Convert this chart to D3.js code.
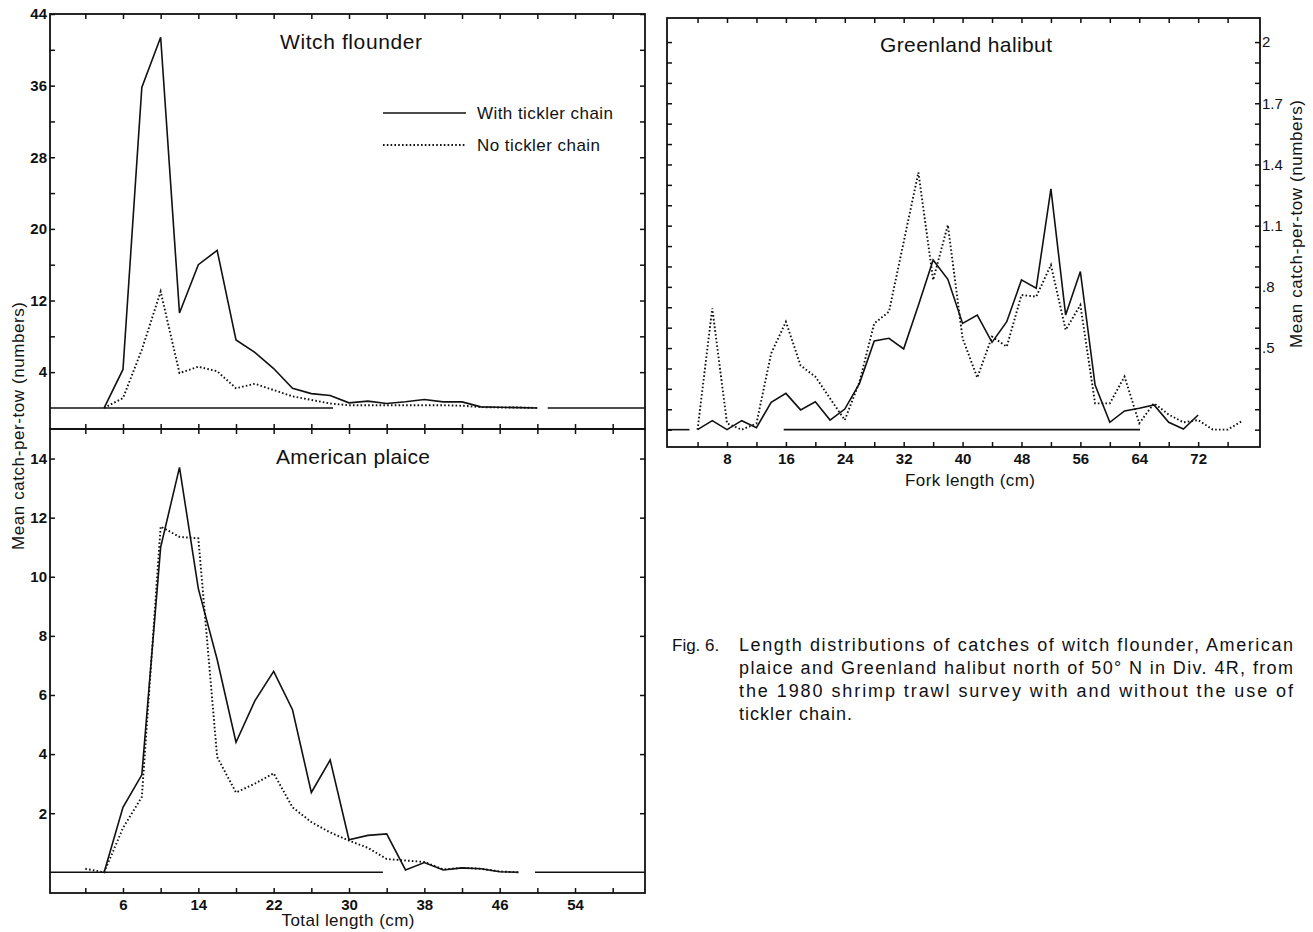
<!DOCTYPE html>
<html>
<head>
<meta charset="utf-8">
<script src="https://cdn.jsdelivr.net/npm/d3@7/dist/d3.min.js"></script>
<style>
  body { margin: 0; background: #fff; }
  svg { display: block; font-family: "Liberation Sans", Arial, sans-serif; }
</style>
</head>
<body>
<div id="chart"></div>
<script>
// ---- data ----
const witchLengths = [4, 6, 8, 10, 12, 14, 16, 18, 20, 22, 24, 26, 28, 30, 32, 34, 36, 38, 40, 42, 44, 46, 48, 50]
const witchWith = [0, 4.3, 35.8, 41.4, 10.6, 16.0, 17.6, 7.6, 6.2, 4.4, 2.2, 1.6, 1.4, 0.57, 0.76, 0.5, 0.7, 0.95, 0.68, 0.68, 0.12, 0.08, 0.04, 0]
const witchWithout = [0, 1.1, 6.5, 13.0, 3.9, 4.6, 4.1, 2.2, 2.7, 2.0, 1.3, 0.9, 0.5, 0.3, 0.3, 0.3, 0.3, 0.3, 0.3, 0.25, 0.1, 0.05, 0.05, 0]

const plaiceLengths = [2, 4, 6, 8, 10, 12, 14, 16, 18, 20, 22, 24, 26, 28, 30, 32, 34, 36, 38, 40, 42, 44, 46, 48]
const plaiceWith = [null, 0, 2.2, 3.3, 11.0, 13.7, 9.6, 7.2, 4.4, 5.8, 6.8, 5.5, 2.7, 3.8, 1.1, 1.25, 1.3, 0.08, 0.33, 0.08, 0.15, 0.12, 0.02, 0]
const plaiceWithout = [0.12, 0, 1.5, 2.55, 11.7, 11.35, 11.3, 3.9, 2.7, 3.0, 3.35, 2.2, 1.7, 1.35, 1.07, 0.83, 0.45, 0.4, 0.35, 0.1, 0.15, 0.12, 0.03, 0]

const halibutLengths = [4, 6, 8, 10, 12, 14, 16, 18, 20, 22, 24, 26, 28, 30, 32, 34, 36, 38, 40, 42, 44, 46, 48, 50, 52, 54, 56, 58, 60, 62, 64, 66, 68, 70, 72, 74, 76, 78]
const halibutWith = [0.1, 0.144, 0.1, 0.144, 0.11, 0.234, 0.278, 0.197, 0.237, 0.147, 0.201, 0.327, 0.535, 0.548, 0.496, 0.71, 0.932, 0.837, 0.621, 0.662, 0.528, 0.629, 0.834, 0.793, 1.28, 0.662, 0.875, 0.319, 0.136, 0.192, 0.205, 0.221, 0.136, 0.103, 0.172, null, null, null]
const halibutWithout = [0.1, 0.695, 0.131, 0.1, 0.13, 0.474, 0.629, 0.414, 0.36, 0.253, 0.147, 0.335, 0.621, 0.678, 1.02, 1.361, 0.834, 1.103, 0.548, 0.355, 0.556, 0.507, 0.76, 0.752, 0.907, 0.589, 0.711, 0.229, 0.229, 0.36, 0.131, 0.229, 0.174, 0.136, 0.147, 0.1, 0.1, 0.143]

// axis ticks / labels
const totalLengthTicks = [2, 6, 10, 14, 18, 22, 26, 30, 34, 38, 42, 46, 50, 54, 58]
const totalLengthLabels = [6, 14, 22, 30, 38, 46, 54]
const witchYTicks = [4, 8, 12, 16, 20, 24, 28, 32, 36, 40, 44]
const witchYLabels = [4, 12, 20, 28, 36, 44]
const plaiceYTicks = [2, 4, 6, 8, 10, 12, 14]
const forkLengthTicks = [4, 8, 12, 16, 20, 24, 28, 32, 36, 40, 44, 48, 52, 56, 60, 64, 68, 72, 76]
const forkLengthLabels = [8, 16, 24, 32, 40, 48, 56, 64, 72]
const halibutYTicks = [1, 2, 3, 4, 5, 6, 7, 8, 9, 10, 11, 12, 13, 14, 15, 16, 17, 18, 19, 20].map(d => d / 10)
const halibutYLabels = [0.5, 0.8, 1.1, 1.4, 1.7, 2.0]

// zero-line pieces (the printed baseline is broken in places)
const witchBaseline = [[-1.75, 28.3], [51.1, 61.43]]
const plaiceBaseline = [[-1.75, 33.6], [49.75, 61.43]]
const halibutBaseline = [[-0.15, 2.9], [15.7, 64.1]]
const halibutZero = 0.1

const seriesNames = ["With tickler chain", "No tickler chain"]
const captionLines = [
  "Length distributions of catches of witch flounder, American",
  "plaice and Greenland halibut north of 50\u00b0 N in Div. 4R, from",
  "the 1980 shrimp trawl survey with and without the use of",
  "tickler chain."
]

// ---- drawing ----
const svg = d3.select("#chart").append("svg")
  .attr("width", 1313)
  .attr("height", 932)
svg.append("rect").attr("width", 1313).attr("height", 932).attr("fill", "#fff")

const ink = "#111"
const dots = "1.6,2.2"

// scales
const xTotal = d3.scaleLinear().domain([-1.75, 61.43]).range([50, 645])
const yWitch = d3.scaleLinear().domain([-2.35, 44]).range([429, 14])
const yPlaice = d3.scaleLinear().domain([-0.7, 15]).range([893, 429])
const xFork = d3.scaleLinear().domain([-0.15, 80.4]).range([667, 1260])
const yHalibut = d3.scaleLinear().domain([0.015, 2.118]).range([447, 18])

function styleAxis(g, fontSize) {
  g.select(".domain").remove()
  g.selectAll(".tick line").attr("stroke", ink).attr("stroke-width", 1.5)
  g.selectAll(".tick text")
    .attr("fill", ink)
    .style("font-size", fontSize + "px")
    .style("font-weight", "bold")
    .style("font-family", "'Liberation Sans', Arial, sans-serif")
}

function frame(x, y) {
  svg.append("rect")
    .attr("x", x.range()[0]).attr("y", y.range()[1])
    .attr("width", x.range()[1] - x.range()[0])
    .attr("height", y.range()[0] - y.range()[1])
    .attr("fill", "none").attr("stroke", ink).attr("stroke-width", 1.8)
}

function drawBaseline(segs, x, y, level) {
  svg.append("g").selectAll("line")
    .data(segs)
    .join("line")
      .attr("x1", d => x(d[0])).attr("x2", d => x(d[1]))
      .attr("y1", y(level)).attr("y2", y(level))
      .attr("stroke", ink).attr("stroke-width", 1.6)
}

function drawSeries(lengths, values, x, y, dashed) {
  const pts = d3.zip(lengths, values).filter(d => d[1] != null)
  svg.append("path")
    .datum(pts)
    .attr("fill", "none")
    .attr("stroke", ink)
    .attr("stroke-width", dashed ? 1.9 : 1.6)
    .attr("stroke-linejoin", "miter")
    .attr("stroke-dasharray", dashed ? dots : null)
    .attr("d", d3.line().x(d => x(d[0])).y(d => y(d[1])))
}

// --- witch flounder (top left)
frame(xTotal, yWitch)
svg.append("g").attr("transform", `translate(50,0)`)
  .call(d3.axisLeft(yWitch).tickValues(witchYTicks).tickSize(-5).tickPadding(3)
    .tickFormat(d => witchYLabels.includes(d) ? d : ""))
  .call(g => styleAxis(g, 15))
svg.append("g").attr("transform", `translate(645,0)`)
  .call(d3.axisRight(yWitch).tickValues(witchYTicks).tickSize(-5).tickFormat(""))
  .call(g => styleAxis(g, 15))
svg.append("g").attr("transform", `translate(0,14)`)
  .call(d3.axisTop(xTotal).tickValues(totalLengthTicks).tickSize(-5).tickFormat(""))
  .call(g => styleAxis(g, 15))
// shared border: ticks cross the line
svg.append("g").attr("transform", `translate(0,429)`)
  .call(d3.axisTop(xTotal).tickValues(totalLengthTicks).tickSize(5).tickFormat(""))
  .call(g => styleAxis(g, 15))
svg.append("g").attr("transform", `translate(0,429)`)
  .call(d3.axisBottom(xTotal).tickValues(totalLengthTicks).tickSize(5).tickFormat(""))
  .call(g => styleAxis(g, 15))

drawBaseline(witchBaseline, xTotal, yWitch, 0)
drawSeries(witchLengths, witchWithout, xTotal, yWitch, true)
drawSeries(witchLengths, witchWith, xTotal, yWitch, false)

svg.append("text").attr("x", 280).attr("y", 49)
  .attr("textLength", 142).attr("lengthAdjust", "spacing")
  .style("font-size", "21px").attr("fill", ink).text("Witch flounder")

// legend
const legend = svg.append("g").selectAll("g")
  .data(seriesNames)
  .join("g")
    .attr("transform", (d, i) => `translate(383,${113 + i * 32})`)
legend.append("line")
  .attr("x1", 0).attr("x2", 83).attr("y1", 0).attr("y2", 0)
  .attr("stroke", ink)
  .attr("stroke-width", (d, i) => i ? 1.9 : 1.4)
  .attr("stroke-dasharray", (d, i) => i ? dots : null)
legend.append("text")
  .attr("x", 94).attr("y", 6)
  .attr("textLength", (d, i) => i ? 123 : 136).attr("lengthAdjust", "spacing")
  .style("font-size", "17px").attr("fill", ink)
  .text(d => d)

// --- American plaice (bottom left)
frame(xTotal, yPlaice)
svg.append("g").attr("transform", `translate(50,0)`)
  .call(d3.axisLeft(yPlaice).tickValues(plaiceYTicks).tickSize(-5).tickPadding(3))
  .call(g => styleAxis(g, 15))
svg.append("g").attr("transform", `translate(645,0)`)
  .call(d3.axisRight(yPlaice).tickValues(plaiceYTicks).tickSize(-5).tickFormat(""))
  .call(g => styleAxis(g, 15))
svg.append("g").attr("transform", `translate(0,893)`)
  .call(d3.axisBottom(xTotal).tickValues(totalLengthTicks).tickSize(-5).tickPadding(6)
    .tickFormat(d => totalLengthLabels.includes(d) ? d : ""))
  .call(g => styleAxis(g, 15))

drawBaseline(plaiceBaseline, xTotal, yPlaice, 0)
drawSeries(plaiceLengths, plaiceWithout, xTotal, yPlaice, true)
drawSeries(plaiceLengths, plaiceWith, xTotal, yPlaice, false)

svg.append("text").attr("x", 276).attr("y", 464)
  .attr("textLength", 154).attr("lengthAdjust", "spacing")
  .style("font-size", "21px").attr("fill", ink).text("American plaice")

svg.append("text").attr("x", 348).attr("y", 926)
  .attr("text-anchor", "middle")
  .attr("textLength", 133).attr("lengthAdjust", "spacing")
  .style("font-size", "17px").attr("fill", ink).text("Total length (cm)")

svg.append("text")
  .attr("transform", "translate(24,426) rotate(-90)")
  .attr("text-anchor", "middle")
  .attr("textLength", 248).attr("lengthAdjust", "spacing")
  .style("font-size", "17px").attr("fill", ink).text("Mean catch-per-tow (numbers)")

// --- Greenland halibut (right)
frame(xFork, yHalibut)
svg.append("g").attr("transform", `translate(667,0)`)
  .call(d3.axisLeft(yHalibut).tickValues(halibutYTicks).tickSize(-5).tickFormat(""))
  .call(g => styleAxis(g, 15))
svg.append("g").attr("transform", `translate(1260,0)`)
  .call(d3.axisRight(yHalibut).tickValues(halibutYTicks).tickSize(-5).tickPadding(2)
    .tickFormat(d => halibutYLabels.some(v => Math.abs(v - d) < 1e-6) ? String(+d.toFixed(1)).replace(/^0/, "") : ""))
  .call(g => styleAxis(g, 15))
  .call(g => g.selectAll(".tick text").style("font-weight", "normal"))
svg.append("g").attr("transform", `translate(0,18)`)
  .call(d3.axisTop(xFork).tickValues(forkLengthTicks).tickSize(-5).tickFormat(""))
  .call(g => styleAxis(g, 15))
svg.append("g").attr("transform", `translate(0,447)`)
  .call(d3.axisBottom(xFork).tickValues(forkLengthTicks).tickSize(-5).tickPadding(6)
    .tickFormat(d => forkLengthLabels.includes(d) ? d : ""))
  .call(g => styleAxis(g, 15))

drawBaseline(halibutBaseline, xFork, yHalibut, halibutZero)
drawSeries(halibutLengths, halibutWithout, xFork, yHalibut, true)
drawSeries(halibutLengths, halibutWith, xFork, yHalibut, false)

svg.append("text").attr("x", 880).attr("y", 52)
  .attr("textLength", 172).attr("lengthAdjust", "spacing")
  .style("font-size", "21px").attr("fill", ink).text("Greenland halibut")

svg.append("text").attr("x", 970).attr("y", 486)
  .attr("text-anchor", "middle")
  .attr("textLength", 130).attr("lengthAdjust", "spacing")
  .style("font-size", "17px").attr("fill", ink).text("Fork length (cm)")

svg.append("text")
  .attr("transform", "translate(1302,224) rotate(-90)")
  .attr("text-anchor", "middle")
  .attr("textLength", 248).attr("lengthAdjust", "spacing")
  .style("font-size", "17px").attr("fill", ink).text("Mean catch-per-tow (numbers)")

// --- caption
svg.append("text").attr("x", 672).attr("y", 651)
  .style("font-size", "17px").attr("fill", ink).text("Fig. 6.")
svg.append("g").selectAll("text")
  .data(captionLines)
  .join("text")
    .attr("x", 739)
    .attr("y", (d, i) => 651 + i * 23)
    .attr("textLength", (d, i) => i < captionLines.length - 1 ? 554 : null)
    .attr("lengthAdjust", "spacing")
    .style("letter-spacing", (d, i) => i < captionLines.length - 1 ? null : "1px")
    .style("font-size", "18px")
    .attr("fill", ink)
    .text(d => d)
</script>
</body>
</html>
